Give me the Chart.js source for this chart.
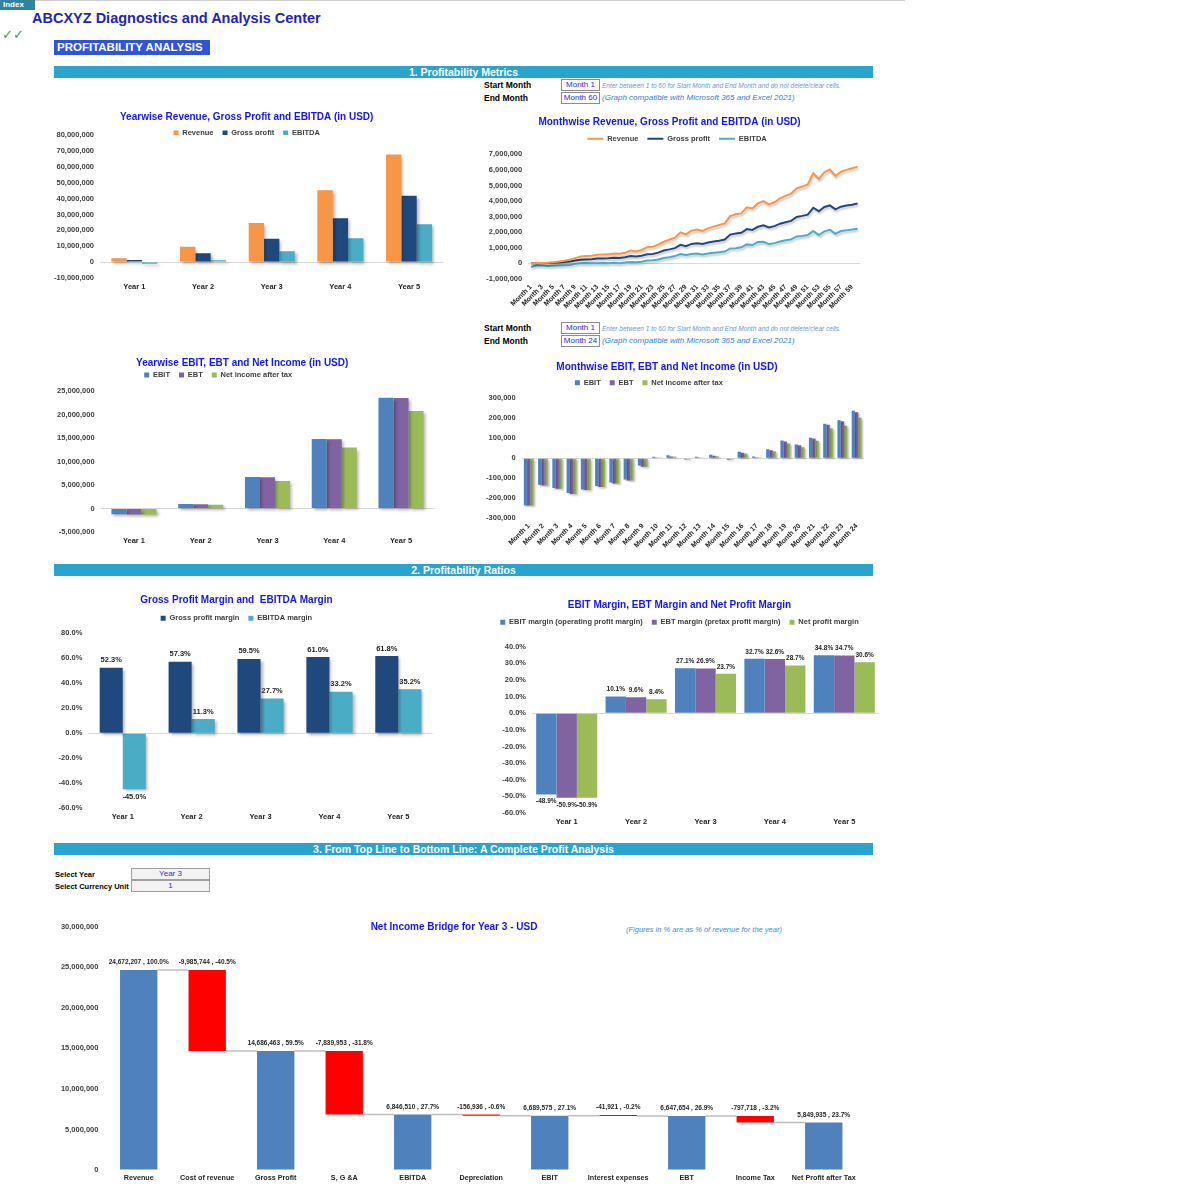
<!DOCTYPE html>
<html>
<head>
<meta charset="utf-8">
<title>Profitability Analysis</title>
<script src="https://cdn.jsdelivr.net/npm/chart.js@4.4.1/dist/chart.umd.min.js"></script>
<style>
  body { margin: 0; background: #fff; }
  #page { position: relative; width: 1200px; height: 1200px; overflow: hidden; font-family: "Liberation Sans", Arial, sans-serif; }
  #page canvas { position: absolute; }
  .t { position: absolute; white-space: nowrap; line-height: 1; }
  .sect { position: absolute; left: 54px; width: 819px; height: 12px; line-height: 12px; background: #2aa3cd; color: #fff; font-weight: bold; font-size: 10.5px; text-align: center; }
  .lbl { font-weight: bold; font-size: 8.5px; color: #000; }
  .cell { position: absolute; left: 561px; width: 39px; height: 12px; line-height: 10px; border: 1px solid #8c8c8c; box-sizing: border-box; text-align: center; font-size: 8px; color: #2b2be0; background: #fff; }
  .note1 { font-style: italic; font-size: 6.5px; color: #6f98d0; }
  .note2 { font-style: italic; font-size: 8px; color: #2f7ed8; }
  .sel { position: absolute; left: 131px; width: 79px; height: 12px; line-height: 10px; border: 1px solid #a0a0a0; box-sizing: border-box; background: #f2f2f2; text-align: center; font-size: 8px; color: #3030d0; }
  .sl { font-weight: bold; font-size: 7.5px; color: #000; }
</style>
</head>
<body>
<div id="page">
  <div style="position:absolute;left:35px;top:0;width:870px;height:1px;background:#d0d0d0"></div>
  <div style="position:absolute;left:0;top:0;width:35px;height:10px;line-height:10px;background:#31849b;color:#fff;font-weight:bold;font-size:8px;padding-left:3px;box-sizing:border-box">Index</div>
  <div class="t" style="left:32px;top:11px;font-size:14.5px;font-weight:bold;color:#2424b4">ABCXYZ Diagnostics and Analysis Center</div>
  <div class="t" style="left:2px;top:28px;font-size:13px;font-style:italic;color:#2e9e4e;font-family:'DejaVu Sans',sans-serif">✓✓</div>
  <div style="position:absolute;left:54px;top:40px;width:156px;height:15px;line-height:15px;background:#2f54d6;color:#fff;font-weight:bold;font-size:11.5px;padding-left:3px;box-sizing:border-box">PROFITABILITY ANALYSIS</div>

  <div class="sect" style="top:66px">1. Profitability Metrics</div>
  <div class="t lbl" style="left:484px;top:81px">Start Month</div>
  <div class="t lbl" style="left:484px;top:94px">End Month</div>
  <div class="cell" style="top:79px">Month 1</div>
  <div class="cell" style="top:92px">Month 60</div>
  <div class="t note1" style="left:602px;top:83px">Enter between 1 to 60 for Start Month and End Month and do not delete/clear cells.</div>
  <div class="t note2" style="left:602px;top:94px">(Graph compatible with Microsoft 365 and Excel 2021)</div>

  <div class="t lbl" style="left:484px;top:324px">Start Month</div>
  <div class="t lbl" style="left:484px;top:337px">End Month</div>
  <div class="cell" style="top:322px">Month 1</div>
  <div class="cell" style="top:335px">Month 24</div>
  <div class="t note1" style="left:602px;top:326px">Enter between 1 to 60 for Start Month and End Month and do not delete/clear cells.</div>
  <div class="t note2" style="left:602px;top:337px">(Graph compatible with Microsoft 365 and Excel 2021)</div>

  <div class="sect" style="top:564px">2. Profitability Ratios</div>
  <div class="sect" style="top:843px">3. From Top Line to Bottom Line: A Complete Profit Analysis</div>
  <div class="t sl" style="left:55px;top:871px">Select Year</div>
  <div class="t sl" style="left:55px;top:883px">Select Currency Unit</div>
  <div class="sel" style="top:868px">Year 3</div>
  <div class="sel" style="top:880px">1</div>
  <div class="t" style="left:626px;top:925.5px;font-size:7.5px;font-style:italic;color:#3c8ddc">(Figures in % are as % of revenue for the year)</div>

  <canvas id="yearRevenue"></canvas>
  <canvas id="monthRevenue"></canvas>
  <canvas id="yearIncome"></canvas>
  <canvas id="monthIncome"></canvas>
  <canvas id="grossMargin"></canvas>
  <canvas id="ebitMargin"></canvas>
  <canvas id="bridge"></canvas>
</div>

<script>
// ---------- data ----------
const years = ['Year 1', 'Year 2', 'Year 3', 'Year 4', 'Year 5'];

const revenueYear = [2450000, 9700000, 24672207, 45200000, 67700000];
const grossYear = [1280000, 5560000, 14686463, 27570000, 41840000];
const ebitdaYear = [-1100000, 1100000, 6846510, 15000000, 23830000];

const ebitYear = [-1200000, 980000, 6689575, 14780000, 23560000];
const ebtYear = [-1250000, 930000, 6647654, 14740000, 23490000];
const netYear = [-1250000, 810000, 5849935, 12970000, 20720000];

const months60 = Array.from({ length: 60 }, (_, i) => 'Month ' + (i + 1));
const revenueMonth = [
  10000, 20000, 30000, 50000, 80000, 120000, 170000, 230000, 340000, 440000, 480000, 490000,
  550000, 570000, 580000, 640000, 620000, 680000, 820000, 770000, 860000, 1040000, 1070000, 1200000,
  1390000, 1520000, 1650000, 1990000, 1860000, 2100000, 2180000, 2080000, 2250000, 2360000, 2460000, 2570000,
  3040000, 3150000, 3210000, 3600000, 3530000, 3850000, 4000000, 3790000, 3920000, 4180000, 4330000, 4480000,
  4820000, 4930000, 5070000, 5780000, 5420000, 5850000, 6020000, 5610000, 5890000, 6000000, 6100000, 6210000
];
const grossMonth = [
  4000, 9000, 15000, 25000, 40000, 60000, 90000, 120000, 180000, 230000, 250000, 260000,
  310000, 320000, 330000, 370000, 350000, 390000, 470000, 440000, 490000, 590000, 610000, 690000,
  830000, 900000, 980000, 1190000, 1110000, 1250000, 1300000, 1240000, 1340000, 1410000, 1460000, 1530000,
  1850000, 1920000, 1960000, 2200000, 2150000, 2350000, 2440000, 2310000, 2390000, 2550000, 2640000, 2730000,
  2980000, 3050000, 3130000, 3570000, 3350000, 3620000, 3720000, 3470000, 3640000, 3710000, 3770000, 3840000
];
const ebitdaMonth = [
  -229000, -125000, -142000, -167000, -149000, -132000, -114000, -99000, -29000, 15000, 23000, 5000,
  17000, 27000, 7000, 42000, 18000, 55000, 98000, 78000, 112000, 182000, 200000, 247000,
  350000, 400000, 470000, 600000, 540000, 600000, 640000, 580000, 640000, 680000, 720000, 760000,
  960000, 980000, 1030000, 1220000, 1180000, 1370000, 1390000, 1240000, 1300000, 1410000, 1480000, 1540000,
  1730000, 1760000, 1820000, 2080000, 1820000, 2060000, 2160000, 1900000, 2080000, 2120000, 2180000, 2230000
];

const months24 = months60.slice(0, 24);
const ebitMonth = [-237000, -133000, -150000, -175000, -157000, -140000, -122000, -107000, -37000, 7000, 15000, -3000,
  7000, 17000, -3000, 32000, 8000, 45000, 88000, 68000, 102000, 172000, 190000, 237000];
const ebtMonth = [-237000, -137000, -153000, -180000, -160000, -145000, -127000, -112000, -43000, 3000, 8000, -7000,
  3000, 12000, -8000, 27000, 5000, 40000, 83000, 65000, 98000, 167000, 185000, 230000];
const netMonth = [-237000, -137000, -153000, -180000, -160000, -145000, -127000, -112000, -43000, 3000, 8000, -7000,
  3000, 10000, -7000, 23000, 3000, 35000, 73000, 55000, 87000, 148000, 163000, 202000];

const grossMargin = [52.3, 57.3, 59.5, 61.0, 61.8];
const ebitdaMargin = [-45.0, 11.3, 27.7, 33.2, 35.2];
const ebitMargin = [-48.9, 10.1, 27.1, 32.7, 34.8];
const ebtMargin = [-50.9, 9.6, 26.9, 32.6, 34.7];
const netMargin = [-50.9, 8.4, 23.7, 28.7, 30.6];

const bridgeLabels = ['Revenue', 'Cost of revenue', 'Gross Profit', 'S, G &A', 'EBITDA', 'Depreciation',
  'EBIT', 'Interest expenses', 'EBT', 'Income Tax', 'Net Profit after Tax'];
const bridgeValues = [24672207, -9985744, 14686463, -7839953, 6846510, -156936, 6689575, -41921, 6647654, -797718, 5849935];
const bridgePct = [100.0, -40.5, 59.5, -31.8, 27.7, -0.6, 27.1, -0.2, 26.9, -3.2, 23.7];
const bridgeIsTotal = [true, false, true, false, true, false, true, false, true, false, true];

// ---------- setup ----------
const FONT = '"Liberation Sans", Arial, sans-serif';
Chart.defaults.font.family = FONT;
Chart.defaults.font.weight = 'bold';
Chart.defaults.font.size = 7.5;
Chart.defaults.color = '#404040';
Chart.defaults.animation = false;

const COL = { revenue: '#f79646', gross: '#1f497d', ebitda: '#4bacc6', ebit: '#4f81bd', ebt: '#8064a2', net: '#9bbb59' };

const num = v => Math.round(v).toLocaleString('en-US');
const pct = v => v.toFixed(1) + '%';

// legend sits closer to the plot than Chart.js allows, so trim its box
const legendFit = {
  id: 'legendFit',
  beforeLayout(chart, args, opts) {
    const lg = chart.legend;
    if (!lg || lg._trimmed) return;
    const fit = lg.fit;
    lg.fit = function () {
      fit.call(this);
      if (this.options.display) this.height = Math.max(0, this.height - (opts.trim || 0));
    };
    lg._trimmed = true;
  },
  afterLayout(chart, args, opts) {
    const lg = chart.legend;
    if (lg && opts.dx) { lg.left += opts.dx; lg.right += opts.dx; }
  }
};

const shadow = {
  id: 'shadow',
  beforeDatasetsDraw(chart, args, o) {
    const c = chart.ctx;
    c.save();
    c.shadowColor = o.color || 'rgba(0,0,0,0.3)';
    c.shadowBlur = o.blur == null ? 3 : o.blur;
    c.shadowOffsetX = o.x == null ? 2 : o.x;
    c.shadowOffsetY = o.y == null ? 2 : o.y;
  },
  afterDatasetsDraw(chart) { chart.ctx.restore(); }
};

const valueLabels = {
  id: 'valueLabels',
  afterDatasetsDraw(chart, args, o) {
    if (!o.text) return;
    const c = chart.ctx;
    c.save();
    c.font = 'bold ' + o.size + 'px ' + FONT;
    c.fillStyle = '#262626';
    c.textAlign = 'center';
    c.textBaseline = 'middle';
    chart.data.datasets.forEach((ds, i) => {
      chart.getDatasetMeta(i).data.forEach((el, j) => {
        const top = Math.min(el.y, el.base), bottom = Math.max(el.y, el.base);
        const up = o.above || ds.data[j] >= 0;
        c.fillText(o.text(i, j), el.x, up ? top - o.offset : bottom + o.offset);
      });
    });
    c.restore();
  }
};

const TITLE_LH = 12, LEG_IH = 7.5, LEG_PAD = 9;
function head(b) {
  const pt = b.titleY - b.y - TITLE_LH / 2;
  if (b.legendY == null) return { title: { top: pt, bottom: b.areaTop - (b.y + pt + TITLE_LH) }, trim: 0 };
  const legendTop = b.legendY - LEG_PAD - LEG_IH / 2;
  return {
    title: { top: pt, bottom: legendTop - (b.y + pt + TITLE_LH) },
    trim: legendTop + LEG_IH + LEG_PAD + 10 - b.areaTop
  };
}

function yAxis(b, min, max, step, fmt, zeroLine) {
  return {
    min: min, max: max,
    border: { display: false },
    grid: { drawTicks: false, color: c => (zeroLine && c.tick && c.tick.value === 0) ? '#d9d9d9' : 'rgba(0,0,0,0)' },
    ticks: { stepSize: step, padding: 6, callback: fmt, color: '#404040' },
    afterFit: s => { s.width = b.areaLeft - b.x; }
  };
}

function xAxis(b, ticks, offset) {
  return {
    offset: offset !== false,
    border: { display: false },
    grid: { display: false, drawTicks: false },
    ticks: Object.assign({ padding: 4, color: '#262626', autoSkip: false, minRotation: 0, maxRotation: 0 }, ticks || {}),
    afterFit: s => { s.height = b.y + b.h - b.areaBottom; }
  };
}

function make(id, b, type, data, scales, extra) {
  const cv = document.getElementById(id);
  cv.width = b.w; cv.height = b.h;
  cv.style.left = b.x + 'px'; cv.style.top = b.y + 'px';
  const h = head(b);
  const legendLabels = Object.assign({ boxWidth: 5, boxHeight: 5, padding: LEG_PAD, color: '#404040', font: { size: 7.5, weight: 'bold' } }, b.legendLabels || {});
  const plugins = Object.assign({
    title: { display: true, text: b.title, color: '#1515ee', font: { size: 10, weight: 'bold' }, padding: h.title },
    legend: { display: b.legendY != null, labels: legendLabels },
    legendFit: { trim: h.trim, dx: b.dx || 0 },
    tooltip: { enabled: false }
  }, extra || {});
  return new Chart(cv, {
    type: type,
    data: data,
    options: {
      responsive: false,
      animation: false,
      layout: { padding: { right: b.pr } },
      plugins: plugins,
      scales: scales
    },
    plugins: b.plugins
  });
}

function bars(labels, list, cat) {
  return {
    labels: labels,
    datasets: list.map(d => ({ label: d[0], data: d[1], backgroundColor: d[2], borderWidth: 0, categoryPercentage: cat, barPercentage: 1 }))
  };
}

// ---------- 1. yearwise revenue ----------
const b1 = { x: 50, y: 105, w: 400, h: 193, areaLeft: 100, areaTop: 135, areaBottom: 278, pr: 6.6,
  titleY: 117, legendY: 133, title: 'Yearwise Revenue, Gross Profit and EBITDA (in USD)', plugins: [shadow, legendFit] };
make('yearRevenue', b1, 'bar',
  bars(years, [['Revenue', revenueYear, COL.revenue], ['Gross profit', grossYear, COL.gross], ['EBITDA', ebitdaYear, COL.ebitda]], 0.67),
  { x: xAxis(b1), y: yAxis(b1, -10000000, 80000000, 10000000, num, true) });

// ---------- 2. monthwise revenue ----------
const b2 = { x: 478, y: 108, w: 384, h: 216, areaLeft: 528.2, areaTop: 154.3, areaBottom: 279, pr: 0.9,
  titleY: 122, legendY: 138.7, dx: 7.5, title: 'Monthwise Revenue, Gross Profit and EBITDA (in USD)',
  legendLabels: { usePointStyle: true, pointStyle: 'line', pointStyleWidth: 16 },
  plugins: [shadow, legendFit] };
const line = (label, data, color) => ({ label: label, data: data, borderColor: color, backgroundColor: color, borderWidth: 2, pointRadius: 0, tension: 0 });
make('monthRevenue', b2, 'line',
  { labels: months60, datasets: [line('Revenue', revenueMonth, COL.revenue), line('Gross profit', grossMonth, COL.gross), line('EBITDA', ebitdaMonth, COL.ebitda)] },
  {
    x: xAxis(b2, { minRotation: 45, maxRotation: 45, font: { size: 7, weight: 'bold' },
      callback: function (v, i) { return i % 2 === 0 ? this.getLabelForValue(v) : null; } }),
    y: yAxis(b2, -1000000, 7000000, 1000000, num, true)
  },
  { shadow: { color: 'rgba(0,0,0,0.22)', blur: 2, x: 1, y: 2 } });

// ---------- 3. yearwise EBIT / EBT / net income ----------
const b3 = { x: 50, y: 350, w: 446, h: 202.7, areaLeft: 100.6, areaTop: 391, areaBottom: 532.7, pr: 61.6,
  titleY: 363.3, legendY: 375, dx: -24, title: 'Yearwise EBIT, EBT and Net Income (in USD)', plugins: [shadow, legendFit] };
make('yearIncome', b3, 'bar',
  bars(years, [['EBIT', ebitYear, COL.ebit], ['EBT', ebtYear, COL.ebt], ['Net income after tax', netYear, COL.net]], 0.675),
  { x: xAxis(b3, { padding: 4.5 }), y: yAxis(b3, -5000000, 25000000, 5000000, num, true) });

// ---------- 4. monthwise EBIT / EBT / net income ----------
const b4 = { x: 470, y: 355, w: 451, h: 198.3, areaLeft: 521.7, areaTop: 398.3, areaBottom: 518.3, pr: 57.2,
  titleY: 367.3, legendY: 382.7, dx: -18, title: 'Monthwise EBIT, EBT and Net Income (in USD)', plugins: [shadow, legendFit] };
make('monthIncome', b4, 'bar',
  bars(months24, [['EBIT', ebitMonth, COL.ebit], ['EBT', ebtMonth, COL.ebt], ['Net income after tax', netMonth, COL.net]], 0.7),
  {
    x: xAxis(b4, { minRotation: 45, maxRotation: 45, font: { size: 7, weight: 'bold' } }),
    y: yAxis(b4, -300000, 300000, 100000, num, true)
  },
  { shadow: { color: 'rgba(0,0,0,0.25)', blur: 2, x: 1.5, y: 1.5 } });

// ---------- 5. gross profit and EBITDA margin ----------
const b5 = { x: 40, y: 588, w: 415, h: 240.3, areaLeft: 88.3, areaTop: 633.3, areaBottom: 808.3, pr: 22.2,
  titleY: 600.5, legendY: 618.3, title: 'Gross Profit Margin and  EBITDA Margin', plugins: [shadow, valueLabels, legendFit] };
const marginSets5 = [grossMargin, ebitdaMargin];
make('grossMargin', b5, 'bar',
  bars(years, [['Gross profit margin', grossMargin, COL.gross], ['EBITDA margin', ebitdaMargin, COL.ebitda]], 0.67),
  { x: xAxis(b5), y: yAxis(b5, -60, 80, 20, pct, true) },
  { valueLabels: { size: 7.5, offset: 7.5, text: (i, j) => pct(marginSets5[i][j]) } });

// ---------- 6. EBIT, EBT and net profit margin ----------
const b6 = { x: 480, y: 593, w: 406, h: 240.3, areaLeft: 532, areaTop: 646.7, areaBottom: 813.3, pr: 7,
  titleY: 605, legendY: 622.3, title: 'EBIT Margin, EBT Margin and Net Profit Margin', plugins: [valueLabels, legendFit] };
const marginSets6 = [ebitMargin, ebtMargin, netMargin];
make('ebitMargin', b6, 'bar',
  bars(years, [['EBIT margin (operating profit margin)', ebitMargin, COL.ebit], ['EBT margin (pretax profit margin)', ebtMargin, COL.ebt], ['Net profit margin', netMargin, COL.net]], 0.88),
  { x: xAxis(b6), y: yAxis(b6, -60, 40, 10, pct, true) },
  { valueLabels: { size: 6.5, offset: 7, text: (i, j) => pct(marginSets6[i][j]) } });

// ---------- 7. net income bridge ----------
const bridgeRanges = [];
const bridgeLevels = [];
let level = 0;
bridgeValues.forEach((v, i) => {
  if (bridgeIsTotal[i]) { bridgeRanges.push([0, v]); level = v; }
  else { bridgeRanges.push([Math.min(level, level + v), Math.max(level, level + v)]); level += v; }
  bridgeLevels.push(level);
});

const connectors = {
  id: 'connectors',
  beforeDatasetsDraw(chart) {
    const c = chart.ctx, meta = chart.getDatasetMeta(0), y = chart.scales.y;
    c.save();
    c.strokeStyle = '#bfbfbf';
    c.lineWidth = 1.5;
    c.beginPath();
    for (let i = 0; i < meta.data.length - 1; i++) {
      const a = meta.data[i], nb = meta.data[i + 1];
      const py = y.getPixelForValue(bridgeLevels[i]);
      c.moveTo(a.x + a.width / 2, py);
      c.lineTo(nb.x - nb.width / 2, py);
    }
    c.stroke();
    c.restore();
  }
};

const b7 = { x: 50, y: 913, w: 824, h: 277, areaLeft: 104.45, areaTop: 926.7, areaBottom: 1170, pr: 16,
  titleY: 927, legendY: null, title: 'Net Income Bridge for Year 3 - USD', plugins: [connectors, valueLabels, legendFit] };
make('bridge', b7, 'bar',
  {
    labels: bridgeLabels,
    datasets: [{
      label: 'Bridge', data: bridgeRanges,
      backgroundColor: bridgeIsTotal.map(t => t ? '#4f81bd' : '#ff0000'),
      borderWidth: 0, minBarLength: 1, categoryPercentage: 1, barPercentage: 0.545
    }]
  },
  { x: xAxis(b7, { font: { size: 7.2, weight: 'bold' } }), y: yAxis(b7, 0, 30000000, 5000000, num, false) },
  { valueLabels: { size: 6.5, offset: 7.5, above: true, text: (i, j) => num(bridgeValues[j]) + ' , ' + pct(bridgePct[j]) } });
</script>
</body>
</html>
